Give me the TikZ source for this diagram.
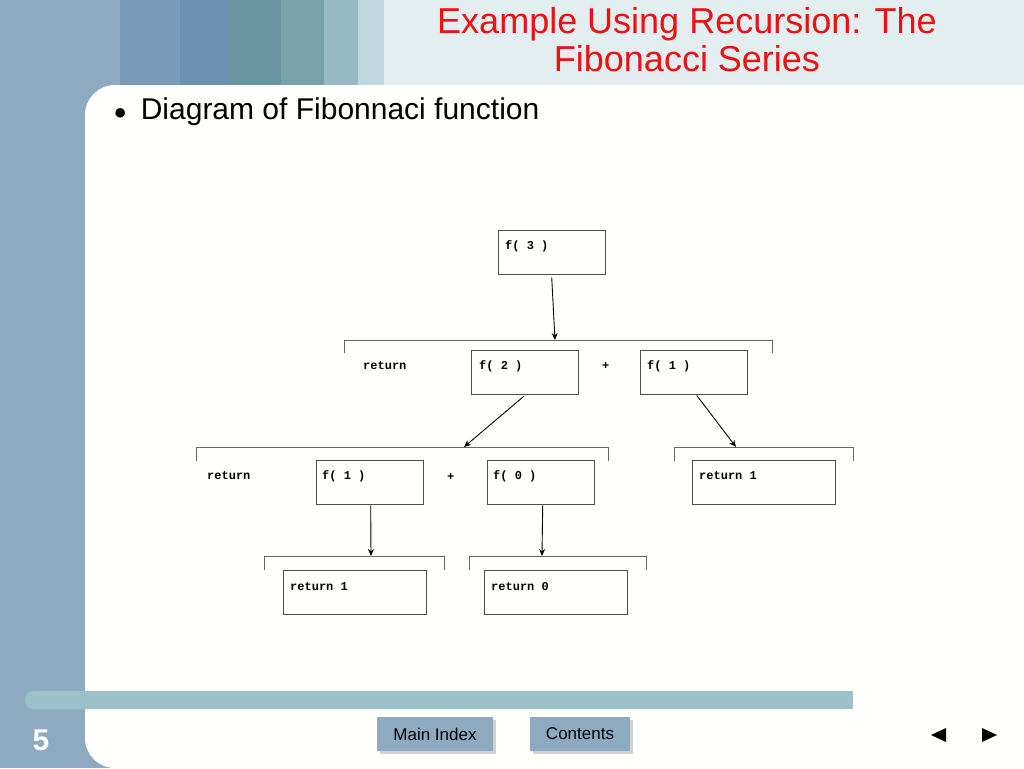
\documentclass[tikz,border=0pt]{standalone}
\usepackage{fontspec}
\setmainfont{Liberation Sans}
\newfontfamily\monofnt{Liberation Mono}
\usetikzlibrary{positioning,arrows.meta,shadows}
\definecolor{bandA}{HTML}{8EAAC0}
\definecolor{bandB}{HTML}{7A9BB8}
\definecolor{bandC}{HTML}{6B91B2}
\definecolor{bandD}{HTML}{6796A2}
\definecolor{bandE}{HTML}{77A2AA}
\definecolor{bandF}{HTML}{97B9C5}
\definecolor{bandG}{HTML}{C0D8DD}
\definecolor{bandH}{HTML}{E2EEF0}
\definecolor{barcol}{HTML}{9BC2C8}
\definecolor{titlered}{HTML}{EE1111}
\tikzset{
  callbox/.style = {draw=black!70, minimum width=#1, minimum height=44pt, inner sep=0pt},
  calltxt/.style = {font=\monofnt\bfseries\fontsize{12}{12}\selectfont, inner sep=0pt, anchor=base west},
  brk/.style     = {draw=black!60, line width=0.6pt},
  callarr/.style = {draw, line width=0.9pt, -{Stealth[length=7pt,width=6pt]}},
  navbtn/.style  = {fill=bandA, minimum height=34pt, inner sep=0pt, font=\fontsize{17}{17}\selectfont,
    drop shadow={shadow xshift=3pt, shadow yshift=-3pt, fill=black!35}}
}
\begin{document}
\begin{tikzpicture}[x=1pt,y=-1pt]
  \useasboundingbox (0,0) rectangle (1024,768);
  % slide frame
  \fill[white!99!yellow] (0,0) rectangle (1024,768);
  \fill[bandA] (0,0) rectangle (120,768);
  \fill[bandB] (120,0) rectangle (180,85);
  \fill[bandC] (180,0) rectangle (228,85);
  \fill[bandD] (228,0) rectangle (281,85);
  \fill[bandE] (281,0) rectangle (324,85);
  \fill[bandF] (324,0) rectangle (358,85);
  \fill[bandG] (358,0) rectangle (384,85);
  \fill[bandH] (384,0) rectangle (1024,85);
  \fill[white!99!yellow, rounded corners=30pt] (85,768) -- (85,85) -- (1024,85) -- (1024,768) -- cycle;
  \fill[white!99!yellow] (120,768) rectangle (1024,120);
  \fill[barcol, rounded corners=9pt] (25,691) rectangle (853,709);
  \fill[barcol] (60,691) rectangle (853,709);

  % title and bullet
  \node[text=titlered, font=\fontsize{36}{38}\selectfont, align=center] (title) at (687,40)
    {Example Using Recursion: The\\Fibonacci Series};
  \node[anchor=west, font=\fontsize{30}{30}\selectfont] (bullet) at (110,112)
    {\fontsize{22}{22}\selectfont●\hspace{14pt}\fontsize{30}{30}\selectfont Diagram of Fibonnaci function};

  % call tree
  \node[callbox=107pt, anchor=north west] (f3) at (498,230) {};
  \node[callbox=107pt, anchor=north west] (f2) at (471,350) {};
  \node[callbox=107pt, anchor=north west] (f1a) at (640,350) {};
  \node[callbox=107pt, anchor=north west] (f1b) at (316,460) {};
  \node[callbox=107pt, anchor=north west] (f0) at (487,460) {};
  \node[callbox=143pt, anchor=north west] (r1a) at (692,460) {};
  \node[callbox=143pt, anchor=north west] (r1b) at (283,570) {};
  \node[callbox=143pt, anchor=north west] (r0) at (484,570) {};

  \node[calltxt] at (505,249) {f( 3 )};
  \node[calltxt] at (479,369) {f( 2 )};
  \node[calltxt] at (647,369) {f( 1 )};
  \node[calltxt] at (322,479) {f( 1 )};
  \node[calltxt] at (493,479) {f( 0 )};
  \node[calltxt] at (699,479) {return 1};
  \node[calltxt] at (290,590) {return 1};
  \node[calltxt] at (491,590) {return 0};
  \node[calltxt] (ret1) at (363,369) {return};
  \node[calltxt] (plus1) at (602,369) {+};
  \node[calltxt] (ret2) at (207,479) {return};
  \node[calltxt] (plus2) at (447,480) {+};

  % brackets
  \draw[brk] (344,353) -- (344,340) -- (772,340) -- (772,353);
  \draw[brk] (196,461) -- (196,447) -- (608,447) -- (608,461);
  \draw[brk] (674,461) -- (674,447) -- (853,447) -- (853,461);
  \draw[brk] (264,570) -- (264,556) -- (444,556) -- (444,570);
  \draw[brk] (469,570) -- (469,556) -- (646,556) -- (646,570);
  \coordinate (b1) at (555,340);
  \coordinate (b2) at (464,447);
  \coordinate (b3) at (736,447);
  \coordinate (b4) at (371,556);
  \coordinate (b5) at (542,556);

  \draw[callarr] ([yshift=-3pt]f3.south) -- (b1);
  \draw[callarr] ([xshift=-1pt,yshift=-2pt]f2.south) -- (b2);
  \draw[callarr] ([xshift=3pt,yshift=-1pt]f1a.south) -- (b3);
  \draw[callarr] ([xshift=1pt,yshift=-1pt]f1b.south) -- (b4);
  \draw[callarr] ([xshift=2pt,yshift=-1pt]f0.south) -- (b5);

  % footer
  \node[text=white, font=\bfseries\fontsize{30}{30}\selectfont] (pnum) at (41,740) {5};
  \node[navbtn, minimum width=116pt] (mainidx) at (435,734) {Main Index};
  \node[navbtn, minimum width=100pt] (contents) at (580,734) {Contents};
  \fill (931,735) -- (946,728) -- (946,742) -- cycle;
  \fill (997,735) -- (982,728) -- (982,742) -- cycle;
\end{tikzpicture}
\end{document}
